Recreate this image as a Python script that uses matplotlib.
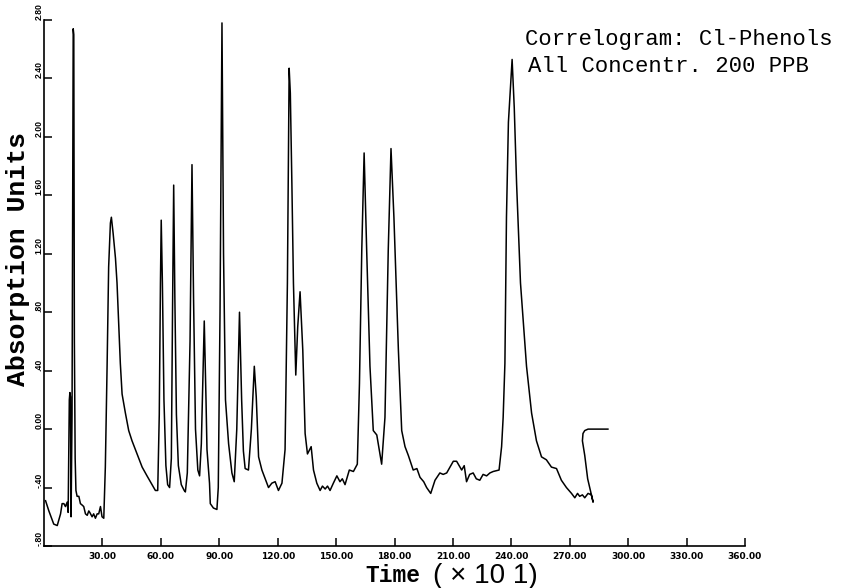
#!/usr/bin/env python
# chromatogram trace: Cl-phenols correlogram
import matplotlib
matplotlib.use('Agg')
import matplotlib.pyplot as plt

# trace (time in units of 10, absorption units)
time = [0.8, 2.5, 5.0, 6.8, 8.5, 9.3, 10.2, 11.0, 11.9, 12.4,
        13.0, 13.3, 13.6, 13.9, 14.4, 14.8, 15.0, 15.3, 15.6, 16.0,
        16.4, 17.0, 17.9, 18.7, 19.6, 20.4, 21.3, 22.2, 23.0, 23.5,
        24.7, 25.5, 26.4, 27.3, 28.1, 29.0, 29.8, 30.7, 31.5, 32.4,
        33.2, 34.1, 34.6, 35.5, 36.7, 37.5, 38.4, 39.2, 40.1, 41.8,
        43.5, 45.2, 47.8, 50.4, 52.9, 55.5, 57.2, 58.4, 59.2, 59.8,
        60.2, 60.8, 61.6, 62.6, 63.5, 64.5, 65.4, 66.0, 66.6, 67.2,
        68.0, 69.0, 70.5, 72.0, 72.6, 73.6, 75.0, 76.0, 76.8, 77.8,
        79.0, 79.9, 80.8, 82.3, 83.2, 83.7, 85.0, 85.4, 87.0, 88.8,
        89.5, 90.4, 91.4, 92.2, 93.2, 94.8, 96.5, 97.7, 99.0, 100.4,
        101.5, 102.4, 103.3, 105.0, 106.5, 108.0, 109.0, 110.2, 111.9, 113.6,
        115.3, 117.0, 118.7, 120.4, 122.2, 123.8, 125.0, 125.9, 126.5, 127.3,
        128.1, 129.3, 130.3, 131.5, 132.9, 134.1, 135.3, 137.2, 138.4, 140.1,
        141.8, 143.0, 144.4, 145.6, 146.9, 148.6, 150.4, 152.0, 153.2, 154.6,
        156.8, 158.9, 160.9, 162.0, 163.2, 164.4, 165.7, 167.4, 169.1, 170.9,
        173.4, 175.1, 176.8, 178.2, 179.7, 182.0, 183.7, 185.4, 187.1, 189.6,
        191.5, 193.1, 195.0, 196.5, 198.6, 200.8, 203.3, 205.0, 206.8, 208.5,
        210.2, 211.9, 214.5, 215.8, 217.0, 218.6, 220.4, 222.0, 223.8, 225.5,
        227.3, 229.0, 230.7, 233.7, 235.0, 235.8, 236.7, 237.5, 238.5, 240.4,
        241.5, 242.7, 244.7, 247.8, 250.4, 252.9, 255.5, 258.0, 260.6, 263.2,
        265.7, 268.3, 270.9, 272.6, 274.0, 275.1, 276.5, 277.7, 279.4, 281.1,
        282.0, 279.2, 277.7, 276.5, 276.8, 277.7, 279.4, 289.6]
absorb = [-0.49, -0.56, -0.65, -0.66, -0.58, -0.51, -0.51, -0.53, -0.50, -0.57,
          0.20, 0.25, 0.22, -0.60, 0.10, 2.00, 2.74, 2.70, 0.60, -0.20,
          -0.42, -0.46, -0.46, -0.51, -0.52, -0.53, -0.58, -0.59, -0.56, -0.57,
          -0.60, -0.58, -0.61, -0.58, -0.58, -0.53, -0.60, -0.61, -0.26, 0.43,
          1.11, 1.41, 1.45, 1.34, 1.17, 1.00, 0.70, 0.45, 0.24, 0.11,
          -0.01, -0.08, -0.17, -0.26, -0.32, -0.38, -0.42, -0.42, 0.10, 1.00,
          1.43, 1.00, 0.20, -0.25, -0.38, -0.40, -0.20, 0.80, 1.67, 0.90,
          0.10, -0.25, -0.38, -0.42, -0.43, -0.30, 0.60, 1.81, 0.90, 0.00,
          -0.28, -0.32, -0.10, 0.74, 0.20, -0.14, -0.37, -0.51, -0.54, -0.55,
          -0.40, 0.80, 2.78, 1.20, 0.20, -0.10, -0.30, -0.36, 0.00, 0.80,
          0.20, -0.15, -0.27, -0.28, 0.00, 0.43, 0.22, -0.19, -0.28, -0.34,
          -0.40, -0.37, -0.36, -0.42, -0.37, -0.14, 1.00, 2.47, 2.30, 1.68,
          1.00, 0.37, 0.70, 0.94, 0.54, -0.03, -0.17, -0.12, -0.28, -0.37,
          -0.42, -0.39, -0.41, -0.39, -0.42, -0.37, -0.32, -0.36, -0.34, -0.38,
          -0.28, -0.29, -0.24, 0.31, 1.23, 1.89, 1.23, 0.43, -0.01, -0.04,
          -0.24, 0.08, 1.23, 1.92, 1.45, 0.54, -0.01, -0.12, -0.18, -0.28,
          -0.27, -0.33, -0.36, -0.40, -0.44, -0.35, -0.30, -0.31, -0.30, -0.26,
          -0.22, -0.22, -0.28, -0.25, -0.36, -0.31, -0.30, -0.34, -0.35, -0.31,
          -0.32, -0.30, -0.29, -0.28, -0.12, 0.08, 0.45, 1.45, 2.10, 2.53,
          2.20, 1.68, 1.00, 0.43, 0.11, -0.08, -0.19, -0.21, -0.26, -0.27,
          -0.35, -0.40, -0.44, -0.47, -0.44, -0.46, -0.45, -0.47, -0.44, -0.45,
          -0.50, -0.34, -0.18, -0.08, -0.03, -0.01, 0.00, 0.00]

xticks = [30, 60, 90, 120, 150, 180, 210, 240, 270, 300, 330, 360]
xlabels = ['30.00', '60.00', '90.00', '120.00', '150.00', '180.00',
           '210.00', '240.00', '270.00', '300.00', '330.00', '360.00']
yticks = [-0.8, -0.4, 0.0, 0.4, 0.8, 1.2, 1.6, 2.0, 2.4, 2.8]
ylabels = ['-.80', '-.40', '0.00', '.40', '.80', '1.20', '1.60', '2.00', '2.40', '2.80']

fig = plt.figure(figsize=(8.44, 5.88), dpi=100)
ax = fig.add_axes([44/844, 42/588, 701/844, 526/588])

ax.plot(time, absorb, color='black', lw=1.1)

ax.set_xlim(0, 360)
ax.set_ylim(-0.8, 2.8)
ax.spines['top'].set_visible(False)
ax.spines['right'].set_visible(False)
ax.spines['left'].set_linewidth(1.2)
ax.spines['bottom'].set_linewidth(1.2)

ax.set_xticks(xticks)
ax.set_xticklabels(xlabels, fontsize=6.5, fontweight='bold', family='DejaVu Sans')
ax.set_yticks(yticks)
ax.set_yticklabels(ylabels, fontsize=6.2, fontweight='bold', family='Liberation Sans',
                   rotation=90, va='bottom')
ax.tick_params(axis='x', direction='in', length=6, width=1.1, pad=4)
ax.tick_params(axis='y', direction='in', length=6, width=1.1, pad=0.5)

fig.text(18/844, 1 - 259/588, 'Absorption Units', rotation=90, ha='center', va='center',
         family='Liberation Mono', fontweight='bold', fontsize=19)
fig.text(365/844, 1 - 576/588, 'Time', ha='left', va='center',
         family='Liberation Mono', fontweight='bold', fontsize=16.5)
fig.text(433/844, 1 - 576/588, '( \u00d7 10 1)', ha='left', va='center',
         family='Liberation Sans', fontsize=20)

fig.text(525/844, 1 - 39/588, 'Correlogram: Cl-Phenols', ha='left', va='center',
         family='Liberation Mono', fontsize=16)
fig.text(528/844, 1 - 66/588, 'All Concentr. 200 PPB', ha='left', va='center',
         family='Liberation Mono', fontsize=16)

fig.savefig('out.png', dpi=100)
